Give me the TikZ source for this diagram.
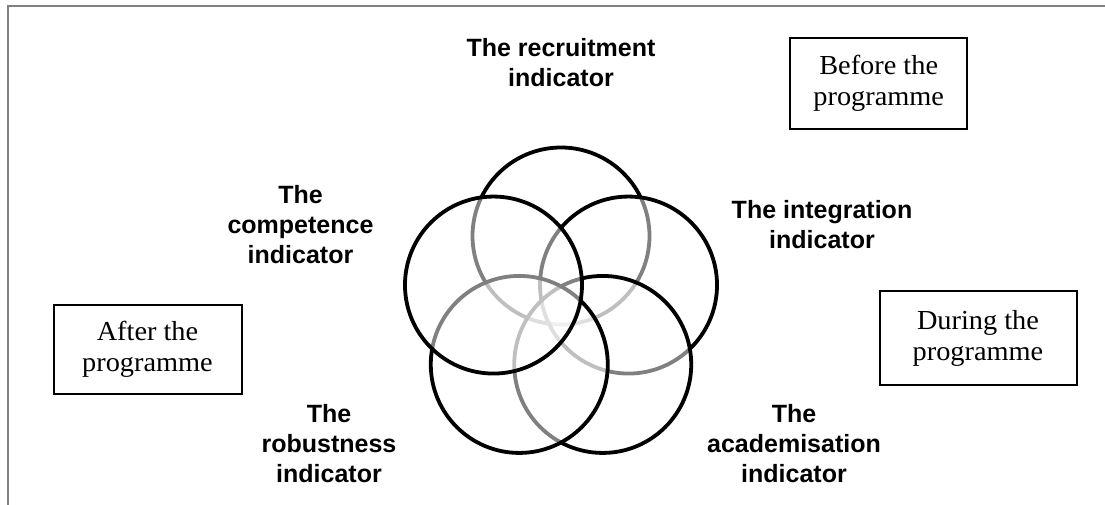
\documentclass[tikz,border=0pt]{standalone}
\usepackage{fontspec}
\newfontfamily\labelfont{Liberation Sans}
\newfontfamily\boxfont{Liberation Serif}[FakeStretch=1.03]

\begin{document}
\begin{tikzpicture}[x=1pt,y=1pt,
  ring/.style={draw,circle,line width=3.8pt,fill=white,fill opacity=0.5,minimum size=177pt,inner sep=0pt},
  tag/.style={align=center,font=\labelfont\bfseries\fontsize{25}{30}\selectfont},
  phase/.style={draw,line width=2pt,align=center,font=\boxfont\fontsize{27.5}{31}\selectfont}]
\useasboundingbox (0,0) rectangle (1105,505);
\draw[gray,line width=1.5pt] (8,0) -- (8,499) -- (1105,499);
% five rings round a pentagon, later ones wash out the ones below
\coordinate (hub) at (561,198);
\foreach \nm/\ang in {recruit/90,integr/18,academ/-54,robust/-126,compet/162}
  \node[ring] (\nm) at ([shift={(\ang:71pt)}]hub) {};
\node[tag] (recruitlbl) at (561,442) {The recruitment\\indicator};
\node[tag] (integrlbl) at (822,280.5) {The integration\\indicator};
\node[tag] (academlbl) at (794,61.3) {The\\academisation\\indicator};
\node[tag] (robustlbl) at (329,61.2) {The\\robustness\\indicator};
\node[tag] (competlbl) at (300.5,280) {The\\competence\\indicator};
\node[phase,minimum width=177pt,minimum height=91.6pt] (before) at (878.7,421.5) {Before the\\programme};
\node[phase,minimum width=197pt,minimum height=94pt] (during) at (978,167) {During the\\programme};
\node[phase,minimum width=188pt,minimum height=89pt] (after) at (147.5,155.3) {After the\\programme};
\end{tikzpicture}
\end{document}
